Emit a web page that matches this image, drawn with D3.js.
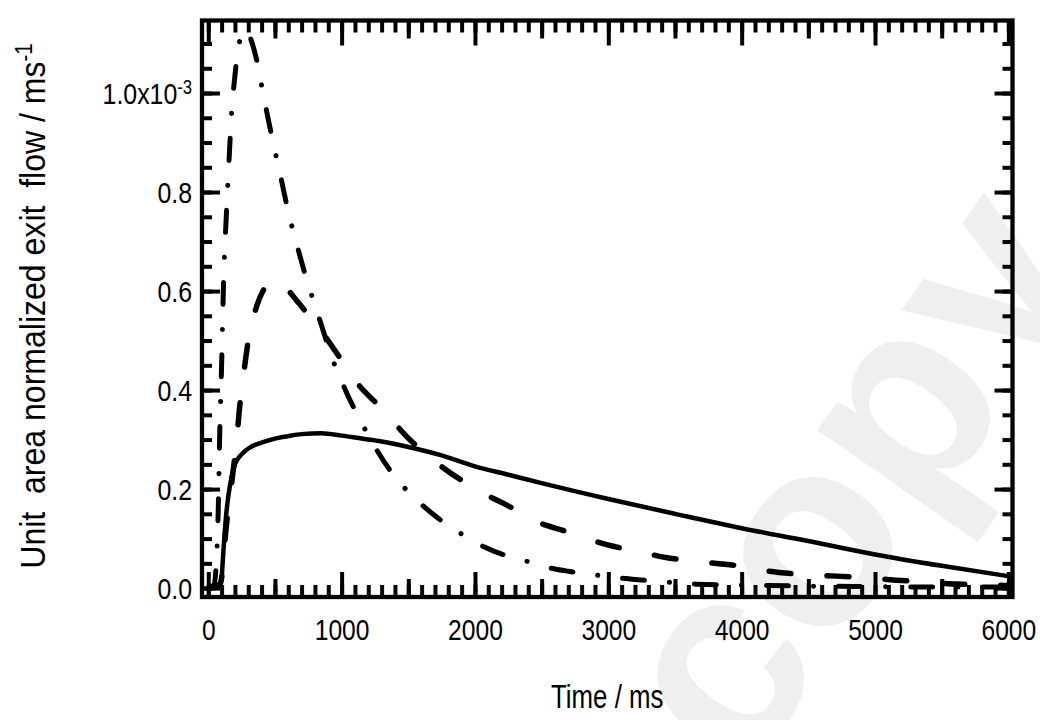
<!DOCTYPE html>
<html>
<head>
<meta charset="utf-8">
<script src="https://cdn.jsdelivr.net/npm/d3@7"></script>
<style>
  body { margin: 0; background: #fff; }
  text { font-family: "Liberation Sans", Arial, sans-serif; fill: #000; }
</style>
</head>
<body>
<svg id="chart" width="1040" height="720"></svg>
<script>
// measured exit flow (solid)
const solidTime = [0, 50, 90, 100, 110, 120, 135, 150, 175, 200, 250, 300, 400, 500, 600, 700, 850, 1000, 1150, 1300, 1500, 1750, 2000, 2250, 2500, 3000, 3500, 4000, 4500, 5000, 5500, 6000];
const solidFlow = [0.004, 0.006, 0.008, 0.02, 0.06, 0.10, 0.15, 0.185, 0.225, 0.25, 0.27, 0.282, 0.294, 0.302, 0.307, 0.311, 0.313, 0.308, 0.302, 0.296, 0.285, 0.268, 0.246, 0.229, 0.212, 0.18, 0.15, 0.121, 0.095, 0.068, 0.045, 0.024];

// model curve (dashed)
const dashTime = [0, 80, 100, 115, 130, 150, 170, 188, 210, 235, 263, 300, 350, 420, 495, 570, 650, 750, 850, 1000, 1100, 1325, 1488, 1685, 2040, 2278, 2446, 2653, 3028, 3246, 3403, 3620, 3995, 4202, 4383, 4577, 4925, 5158, 5338, 5546, 5908, 6000];
const dashFlow = [0, 0.003, 0.02, 0.06, 0.11, 0.16, 0.20, 0.24, 0.29, 0.365, 0.427, 0.50, 0.558, 0.605, 0.622, 0.61, 0.585, 0.552, 0.518, 0.46, 0.42, 0.356, 0.306, 0.259, 0.195, 0.162, 0.136, 0.117, 0.085, 0.073, 0.063, 0.055, 0.044, 0.034, 0.029, 0.026, 0.021, 0.016, 0.013, 0.009, 0.006, 0.005];

// model curve (dash-dot)
const dashDotTime = [0, 40, 60, 75, 85, 100, 115, 135, 155, 175, 200, 220, 250, 285, 320, 363, 400, 440, 490, 540, 600, 675, 750, 800, 850, 925, 1000, 1040, 1140, 1250, 1390, 1560, 1710, 1850, 2040, 2230, 2380, 2540, 2700, 2860, 3030, 3180, 3350, 3500, 3660, 4000, 4500, 5000, 5500, 6000];
const dashDotFlow = [0, 0.002, 0.05, 0.16, 0.30, 0.45, 0.62, 0.75, 0.86, 0.96, 1.035, 1.085, 1.115, 1.128, 1.108, 1.067, 1.015, 0.96, 0.895, 0.835, 0.76, 0.683, 0.612, 0.572, 0.53, 0.467, 0.418, 0.393, 0.339, 0.285, 0.228, 0.179, 0.144, 0.118, 0.087, 0.066, 0.055, 0.042, 0.034, 0.028, 0.022, 0.018, 0.014, 0.011, 0.008, 0.006, 0.004, 0.003, 0.002, 0.002];

const xTickValues = [0, 1000, 2000, 3000, 4000, 5000, 6000];
const yTickValues = [0, 0.2, 0.4, 0.6, 0.8, 1.0];
const yTickLabels = ['0.0', '0.2', '0.4', '0.6', '0.8', '1.0x10'];

const svg = d3.select('#chart');

const plotLeft = 202, plotRight = 1012.5, plotTop = 20.5, plotBottom = 597;

const x = d3.scaleLinear().domain([-47, 6031]).range([plotLeft, plotRight]);
const y = d3.scaleLinear().domain([-0.018, 1.1465]).range([plotBottom, plotTop]);

// watermark behind everything
svg.append('text')
    .attr('transform', 'translate(744,780) rotate(-55)')
    .style('font-weight', 'bold')
    .style('font-size', '266px')
    .style('fill', '#efefef')
    .text('copy');

svg.append('clipPath').attr('id', 'plotClip')
    .append('rect')
    .attr('x', plotLeft).attr('y', plotTop)
    .attr('width', plotRight - plotLeft).attr('height', plotBottom - plotTop);

const plot = svg.append('g').attr('clip-path', 'url(#plotClip)');

function drawSeries(times, flows, width, dash) {
    const pts = times.map((t, i) => [t, flows[i]]);
    const line = d3.line()
        .x(d => x(d[0]))
        .y(d => y(d[1]))
        .curve(d3.curveMonotoneX);
    plot.append('path')
        .datum(pts)
        .attr('d', line)
        .attr('fill', 'none')
        .attr('stroke', '#000')
        .attr('stroke-width', width)
        .attr('stroke-linecap', dash ? 'round' : 'butt')
        .attr('stroke-linejoin', 'round')
        .attr('stroke-dasharray', dash);
}

drawSeries(dashDotTime, dashDotFlow, 5, '22,25,0.1,25');
drawSeries(dashTime, dashFlow, 5.5, '22,36');
drawSeries(solidTime, solidFlow, 4.5, null);

// ticks on all four sides, pointing inward
function addAxis(gen, tx, ty) {
    const g = svg.append('g')
        .attr('transform', `translate(${tx},${ty})`)
        .call(gen);
    g.select('.domain').remove();
    g.selectAll('.tick line').attr('stroke', '#000').attr('stroke-width', 4);
    return g;
}

const xMinor = d3.range(0, 61).map(i => i * 100);
const xMid = d3.range(0, 6).map(i => i * 1000 + 500);
const yMinor = d3.range(0, 23).map(i => i * 0.05);

addAxis(d3.axisBottom(x).tickValues(xMinor).tickSize(-12).tickFormat(''), 0, plotBottom);
addAxis(d3.axisBottom(x).tickValues(xMid).tickSize(-18).tickFormat(''), 0, plotBottom);
const xAxisG = addAxis(d3.axisBottom(x).tickValues(xTickValues).tickSize(-25).tickPadding(22).tickFormat(d => d), 0, plotBottom);

addAxis(d3.axisTop(x).tickValues(xMinor).tickSize(-12).tickFormat(''), 0, plotTop);
addAxis(d3.axisTop(x).tickValues(xMid).tickSize(-18).tickFormat(''), 0, plotTop);
addAxis(d3.axisTop(x).tickValues(xTickValues).tickSize(-25).tickFormat(''), 0, plotTop);

addAxis(d3.axisLeft(y).tickValues(yMinor).tickSize(-10).tickFormat(''), plotLeft, 0);
const yAxisG = addAxis(d3.axisLeft(y).tickValues(yTickValues).tickSize(-18).tickPadding(10)
    .tickFormat((d, i) => yTickLabels[i]), plotLeft, 0);

addAxis(d3.axisRight(y).tickValues(yMinor).tickSize(-10).tickFormat(''), plotRight, 0);
addAxis(d3.axisRight(y).tickValues(yTickValues).tickSize(-18).tickFormat(''), plotRight, 0);

// narrow look: squeeze the labels horizontally
xAxisG.selectAll('text')
    .style('font-size', '30px').style('font-family', null).attr('fill', '#000')
    .attr('transform', 'scale(0.82,1)');
yAxisG.selectAll('text')
    .style('font-size', '30px').style('font-family', null).attr('fill', '#000')
    .attr('x', 0).attr('dy', '0.36em')
    .attr('transform', 'translate(-10,0) scale(0.83,1)');

// exponent on the top y label
yAxisG.selectAll('.tick text')
    .filter((d, i) => i === yTickValues.length - 1)
    .append('tspan')
    .attr('dy', '-0.5em')
    .style('font-size', '20px')
    .text('-3');

// frame
svg.append('rect')
    .attr('x', plotLeft).attr('y', plotTop)
    .attr('width', plotRight - plotLeft).attr('height', plotBottom - plotTop)
    .attr('fill', 'none')
    .attr('stroke', '#000')
    .attr('stroke-width', 4.3);

// axis titles
svg.append('text')
    .attr('transform', `translate(${(plotLeft + plotRight) / 2},708) scale(0.76,1)`)
    .attr('text-anchor', 'middle')
    .style('font-size', '34px')
    .text('Time / ms');

const yTitle = svg.append('text')
    .attr('transform', 'translate(45,306) rotate(-90) scale(0.89,1)')
    .attr('text-anchor', 'middle')
    .style('font-size', '36px')
    .style('white-space', 'pre');
yTitle.append('tspan').text('Unit  area normalized exit  flow / ms');
yTitle.append('tspan').attr('dy', '-0.55em').style('font-size', '23px').text('-1');
</script>
</body>
</html>
